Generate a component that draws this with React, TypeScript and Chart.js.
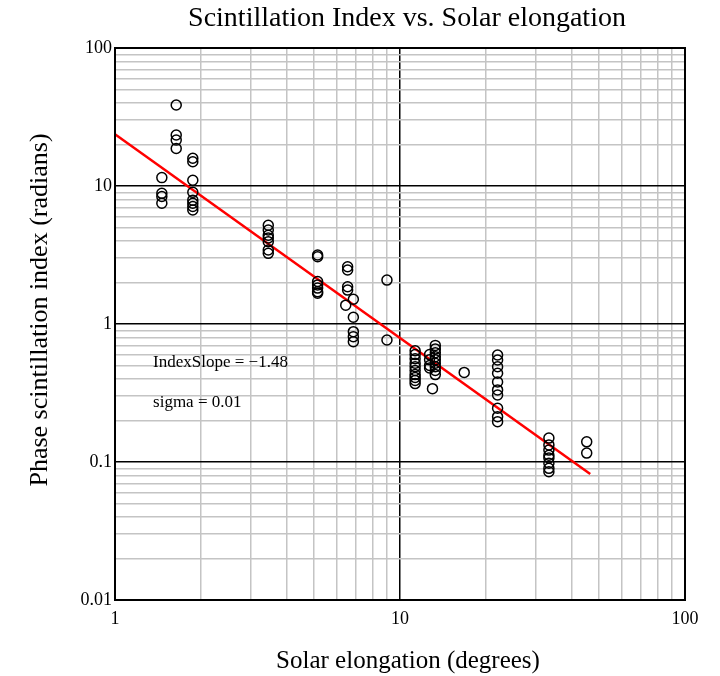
import React, { useEffect, useRef } from "react";
import { Chart, registerables } from "chart.js";

Chart.register(...registerables);

const TITLE = "Scintillation Index vs. Solar elongation";
const X_TITLE = "Solar elongation (degrees)";
const Y_TITLE = "Phase scintillation index (radians)";

const elongation: number[] = [
  1.46, 1.46, 1.46, 1.46,
  1.64, 1.64, 1.64, 1.64,
  1.875, 1.875, 1.875, 1.875, 1.875, 1.875, 1.875, 1.875,
  3.45, 3.45, 3.45, 3.45, 3.45, 3.45, 3.45,
  5.14, 5.14, 5.14, 5.14, 5.14, 5.14, 5.14,
  6.55, 6.55, 6.55, 6.55,
  6.45,
  6.86, 6.86, 6.86, 6.86, 6.86,
  9.0, 9.0,
  11.3, 11.3, 11.3, 11.3, 11.3, 11.3, 11.3, 11.3, 11.3, 11.3,
  12.7, 12.7, 12.7, 12.7,
  13.3, 13.3, 13.3, 13.3, 13.3, 13.3, 13.3, 13.3, 13.3,
  13.0,
  16.8,
  22.0, 22.0, 22.0, 22.0, 22.0, 22.0, 22.0, 22.0, 22.0, 22.0,
  33.3, 33.3, 33.3, 33.3, 33.3, 33.3, 33.3, 33.3,
  45.2, 45.2,
];

const scintIndex: number[] = [
  11.5, 8.85, 8.4, 7.5,
  38.6, 23.4, 21.5, 18.7,
  15.9, 15.0, 11.0, 9.0, 7.9, 7.5, 7.1, 6.7,
  5.2, 4.8, 4.4, 4.2, 3.95, 3.44, 3.25,
  3.16, 3.07, 2.03, 1.92, 1.82, 1.71, 1.67,
  2.6, 2.46, 1.86, 1.76,
  1.37,
  1.51, 1.12, 0.88, 0.81, 0.745,
  2.08, 0.766,
  0.64, 0.6, 0.56, 0.52, 0.49, 0.46, 0.43, 0.41, 0.39, 0.37,
  0.6, 0.55, 0.5, 0.48,
  0.7, 0.66, 0.62, 0.58, 0.55, 0.52, 0.49, 0.46, 0.43,
  0.34,
  0.446,
  0.596, 0.548, 0.49, 0.44, 0.38, 0.333, 0.306, 0.245, 0.213, 0.196,
  0.149, 0.133, 0.122, 0.112, 0.107, 0.098, 0.09, 0.085,
  0.14, 0.116,
];

// fitted line endpoints
const fitX: number[] = [1, 46.5];
const fitY: number[] = [23.7, 0.082];

const xTickValues: number[] = [1, 2, 3, 4, 5, 6, 7, 8, 9, 10, 20, 30, 40, 50, 60, 70, 80, 90, 100];
const yTickValues: number[] = [
  0.01, 0.02, 0.03, 0.04, 0.05, 0.06, 0.07, 0.08, 0.09,
  0.1, 0.2, 0.3, 0.4, 0.5, 0.6, 0.7, 0.8, 0.9,
  1, 2, 3, 4, 5, 6, 7, 8, 9,
  10, 20, 30, 40, 50, 60, 70, 80, 90, 100,
];
const xTickLabels: string[] = ["1", "10", "100"];
const yTickLabels: string[] = ["0.01", "0.1", "1", "10", "100"];

const annotations: { text: string; x: number; y: number }[] = [
  { text: "IndexSlope = \u22121.48", x: 1.36, y: 0.53 },
  { text: "sigma = 0.01", x: 1.36, y: 0.27 },
];

const SERIF = "'Liberation Serif', 'DejaVu Serif', serif";

function isDecade(v: number): boolean {
  const l = Math.log10(v);
  return Math.abs(l - Math.round(l)) < 1e-6;
}

function labelFor(v: number, labels: string[]): string {
  if (!isDecade(v)) return "";
  const found = labels.find((s) => Math.abs(parseFloat(s) - v) < 1e-9 * Math.max(1, v));
  return found ?? "";
}

const textPlugin = {
  id: "texts",
  afterDraw(chart: any) {
    const ctx = chart.ctx;
    ctx.save();
    ctx.fillStyle = "#000";
    ctx.textAlign = "center";
    ctx.textBaseline = "middle";
    ctx.font = `28px ${SERIF}`;
    ctx.fillText(TITLE, 407, 19);
    ctx.font = `25px ${SERIF}`;
    ctx.fillText(X_TITLE, 408, 661);
    ctx.save();
    ctx.translate(40, 310);
    ctx.rotate(-Math.PI / 2);
    ctx.font = `26px ${SERIF}`;
    ctx.fillText(Y_TITLE, 0, 0);
    ctx.restore();
    ctx.font = `17px ${SERIF}`;
    ctx.textAlign = "left";
    const xs = chart.scales.x;
    const ys = chart.scales.y;
    for (const a of annotations) {
      ctx.fillText(a.text, xs.getPixelForValue(a.x), ys.getPixelForValue(a.y));
    }
    ctx.restore();
  },
};

export default function App() {
  const canvasRef = useRef<HTMLCanvasElement | null>(null);

  useEffect(() => {
    const canvas = canvasRef.current;
    if (!canvas) return;
    const points = elongation.map((x, i) => ({ x, y: scintIndex[i] }));
    const fit = fitX.map((x, i) => ({ x, y: fitY[i] }));
    const gridColor = (ctx: any) => {
      const v = ctx.tick ? ctx.tick.value : 0;
      return isDecade(v) ? "#000000" : "#c4c4c4";
    };
    const chart = new Chart(canvas, {
      type: "scatter",
      data: {
        datasets: [
          {
            label: "fit",
            type: "line",
            data: fit,
            borderColor: "#ff0000",
            borderWidth: 2.5,
            pointRadius: 0,
            fill: false,
            order: 2,
          } as any,
          {
            label: "data",
            data: points,
            pointStyle: "circle",
            pointRadius: 5,
            pointBorderWidth: 1.5,
            borderColor: "#000000",
            backgroundColor: "rgba(0,0,0,0)",
            order: 1,
          },
        ],
      },
      options: {
        animation: false,
        responsive: false,
        maintainAspectRatio: false,
        layout: { padding: { left: 0, right: 35, top: 48, bottom: 0 } },
        plugins: {
          legend: { display: false },
          title: { display: false },
          tooltip: { enabled: false },
        },
        scales: {
          x: {
            type: "logarithmic",
            min: 1,
            max: 100,
            afterBuildTicks: (scale: any) => {
              scale.ticks = xTickValues.map((v) => ({ value: v, major: isDecade(v) }));
            },
            afterFit: (scale: any) => {
              scale.height = 76;
            },
            ticks: {
              autoSkip: false,
              maxRotation: 0,
              padding: 8,
              color: "#000",
              font: { family: SERIF, size: 18 },
              callback: (v: any) => labelFor(Number(v), xTickLabels),
            },
            grid: {
              color: gridColor,
              lineWidth: 1.5,
              drawTicks: false,
            },
            border: { display: true, color: "#000", width: 2 },
          },
          y: {
            type: "logarithmic",
            min: 0.01,
            max: 100,
            afterBuildTicks: (scale: any) => {
              scale.ticks = yTickValues.map((v) => ({ value: v, major: isDecade(v) }));
            },
            afterFit: (scale: any) => {
              scale.width = 115;
            },
            ticks: {
              autoSkip: false,
              padding: 3,
              color: "#000",
              font: { family: SERIF, size: 18 },
              callback: (v: any) => labelFor(Number(v), yTickLabels),
            },
            grid: {
              color: gridColor,
              lineWidth: 1.5,
              drawTicks: false,
            },
            border: { display: true, color: "#000", width: 2 },
          },
        },
      },
      plugins: [
        textPlugin,
        {
          id: "frame",
          afterDatasetsDraw(chart: any) {
            const { ctx, chartArea: a } = chart;
            ctx.save();
            ctx.strokeStyle = "#000";
            ctx.lineWidth = 2;
            ctx.strokeRect(a.left, a.top, a.right - a.left, a.bottom - a.top);
            ctx.restore();
          },
        },
      ],
    });
    return () => chart.destroy();
  }, []);

  return (
    <div style={{ position: "fixed", left: 0, top: 0, width: 720, height: 676, background: "#fff" }}>
      <canvas ref={canvasRef} width={720} height={676} style={{ width: 720, height: 676, display: "block" }} />
    </div>
  );
}
